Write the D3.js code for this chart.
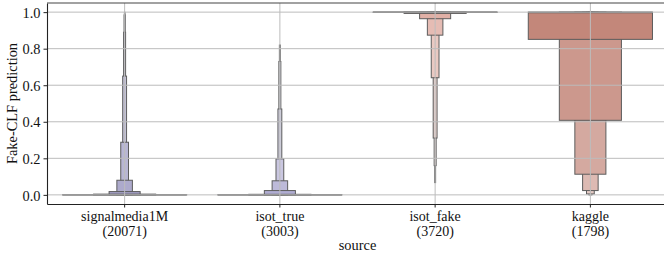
<!DOCTYPE html>
<html>
<head>
<meta charset="utf-8">
<script src="https://cdn.jsdelivr.net/npm/d3@7/dist/d3.min.js"></script>
<style>
  body { margin: 0; background: #fff; }
  svg { display: block; }
  text { font-family: "Liberation Serif", "Times New Roman", serif; fill: #111; }
</style>
</head>
<body>
<div id="chart"></div>
<script>
// categories and sample sizes
const sources = ['signalmedia1M', 'isot_true', 'isot_fake', 'kaggle'];
const counts = [20071, 3003, 3720, 1798];
const baseColors = ['#8d89b8', '#9793c4', '#d69689', '#c3877a'];

// letter-value boxes per source, innermost first: [low, high]
const signalmediaBoxes = [
  [0, 0.001], [0, 0.004], [0, 0.018], [0, 0.08], [0, 0.288],
  [0, 0.65], [0, 0.89], [0, 0.985], [0, 0.998], [0, 1.0],
];
const isotTrueBoxes = [
  [0, 0.001], [0, 0.003], [0, 0.0235], [0, 0.077], [0, 0.197],
  [0, 0.47], [0, 0.73], [0, 0.82],
];
const isotFakeBoxes = [
  [0.998, 1.0], [0.993, 1.0], [0.964, 1.0], [0.874, 1.0], [0.641, 1.0],
  [0.311, 1.0], [0.16, 1.0], [0.067, 1.0],
];
const kaggleBoxes = [
  [0.851, 1.0], [0.408, 1.0], [0.113, 1.0], [0.0235, 1.0], [0.005, 1.0],
  [0.001, 1.0], [0.0, 1.0],
];
const medians = [0.0005, 0.0005, 1.0, 0.998];
const yTicks = [0, 0.2, 0.4, 0.6, 0.8, 1.0];

const allBoxes = [signalmediaBoxes, isotTrueBoxes, isotFakeBoxes, kaggleBoxes];

const width = 664, height = 257;
const margin = { left: 47, right: -4, top: 3, bottom: 53 };
const edge = '#5c5c5c';

const svg = d3.select('#chart').append('svg')
  .attr('width', width)
  .attr('height', height);

const x = d3.scaleBand()
  .domain(sources)
  .range([margin.left, width - margin.right])
  .paddingInner(0)
  .paddingOuter(0);

const y = d3.scaleLinear()
  .domain([-0.05, 1.05])
  .range([height - margin.bottom, margin.top]);

// boxes: outermost first so inner (wider) ones sit on top
sources.forEach((s, si) => {
  const boxes = allBoxes[si];
  const n = boxes.length;
  const cx = x(s) + x.bandwidth() / 2;
  const color = d3.interpolateRgb(baseColors[si], '#ffffff');
  const g = svg.append('g').attr('class', 'boxen');
  for (let i = n - 1; i >= 0; i--) {
    const w = (0.8 * x.bandwidth()) / Math.pow(2, i);
    const [lo, hi] = boxes[i];
    g.append('rect')
      .attr('x', cx - w / 2)
      .attr('y', y(hi))
      .attr('width', w)
      .attr('height', Math.max(0.01, y(lo) - y(hi)))
      .attr('fill', color((0.85 * i) / (n - 1)))
      .attr('stroke', edge)
      .attr('stroke-width', 1);
  }
  // median line
  const w0 = 0.8 * x.bandwidth();
  g.append('line')
    .attr('x1', cx - w0 / 2)
    .attr('x2', cx + w0 / 2)
    .attr('y1', y(medians[si]))
    .attr('y2', y(medians[si]))
    .attr('stroke', edge)
    .attr('stroke-width', 1.3);
});

// grid on top of the boxes
const grid = svg.append('g').attr('class', 'grid')
  .attr('stroke', '#bcbcbc')
  .attr('stroke-width', 1);
grid.selectAll('line.h')
  .data(yTicks)
  .join('line')
  .attr('class', 'h')
  .attr('x1', margin.left)
  .attr('x2', width - margin.right)
  .attr('y1', (d) => y(d))
  .attr('y2', (d) => y(d));
grid.selectAll('line.v')
  .data(sources)
  .join('line')
  .attr('class', 'v')
  .attr('x1', (d) => x(d) + x.bandwidth() / 2)
  .attr('x2', (d) => x(d) + x.bandwidth() / 2)
  .attr('y1', margin.top)
  .attr('y2', height - margin.bottom);

// axes
const xAxis = svg.append('g')
  .attr('transform', `translate(0,${height - margin.bottom})`)
  .call(d3.axisBottom(x).tickSize(3.5).tickSizeOuter(0).tickPadding(4));
xAxis.selectAll('text').remove();
xAxis.selectAll('.tick').append('text')
  .attr('text-anchor', 'middle')
  .attr('font-size', '14px')
  .attr('y', 17)
  .text((d) => d);
xAxis.selectAll('.tick').append('text')
  .attr('text-anchor', 'middle')
  .attr('font-size', '14px')
  .attr('y', 31.5)
  .text((d, i) => `(${counts[i]})`);

const yAxis = svg.append('g')
  .attr('transform', `translate(${margin.left},0)`)
  .call(d3.axisLeft(y).tickValues(yTicks).tickFormat(d3.format('.1f'))
    .tickSize(3.5).tickSizeOuter(0).tickPadding(3));
yAxis.selectAll('text').attr('font-size', '14.4px').attr('dy', '0.36em');

svg.selectAll('.domain').attr('stroke', '#222').attr('stroke-width', 1.1);
svg.selectAll('.tick line').attr('stroke', '#222');

// top spine
svg.append('line')
  .attr('x1', margin.left)
  .attr('x2', width)
  .attr('y1', margin.top)
  .attr('y2', margin.top)
  .attr('stroke', '#444')
  .attr('stroke-width', 1.1);

// axis labels
svg.append('text')
  .attr('x', (margin.left + width - margin.right) / 2)
  .attr('y', 250)
  .attr('text-anchor', 'middle')
  .attr('font-size', '14.4px')
  .text('source');

svg.append('text')
  .attr('transform', `translate(17,${(margin.top + height - margin.bottom) / 2}) rotate(-90)`)
  .attr('text-anchor', 'middle')
  .attr('font-size', '14.4px')
  .text('Fake-CLF prediction');
</script>
</body>
</html>
